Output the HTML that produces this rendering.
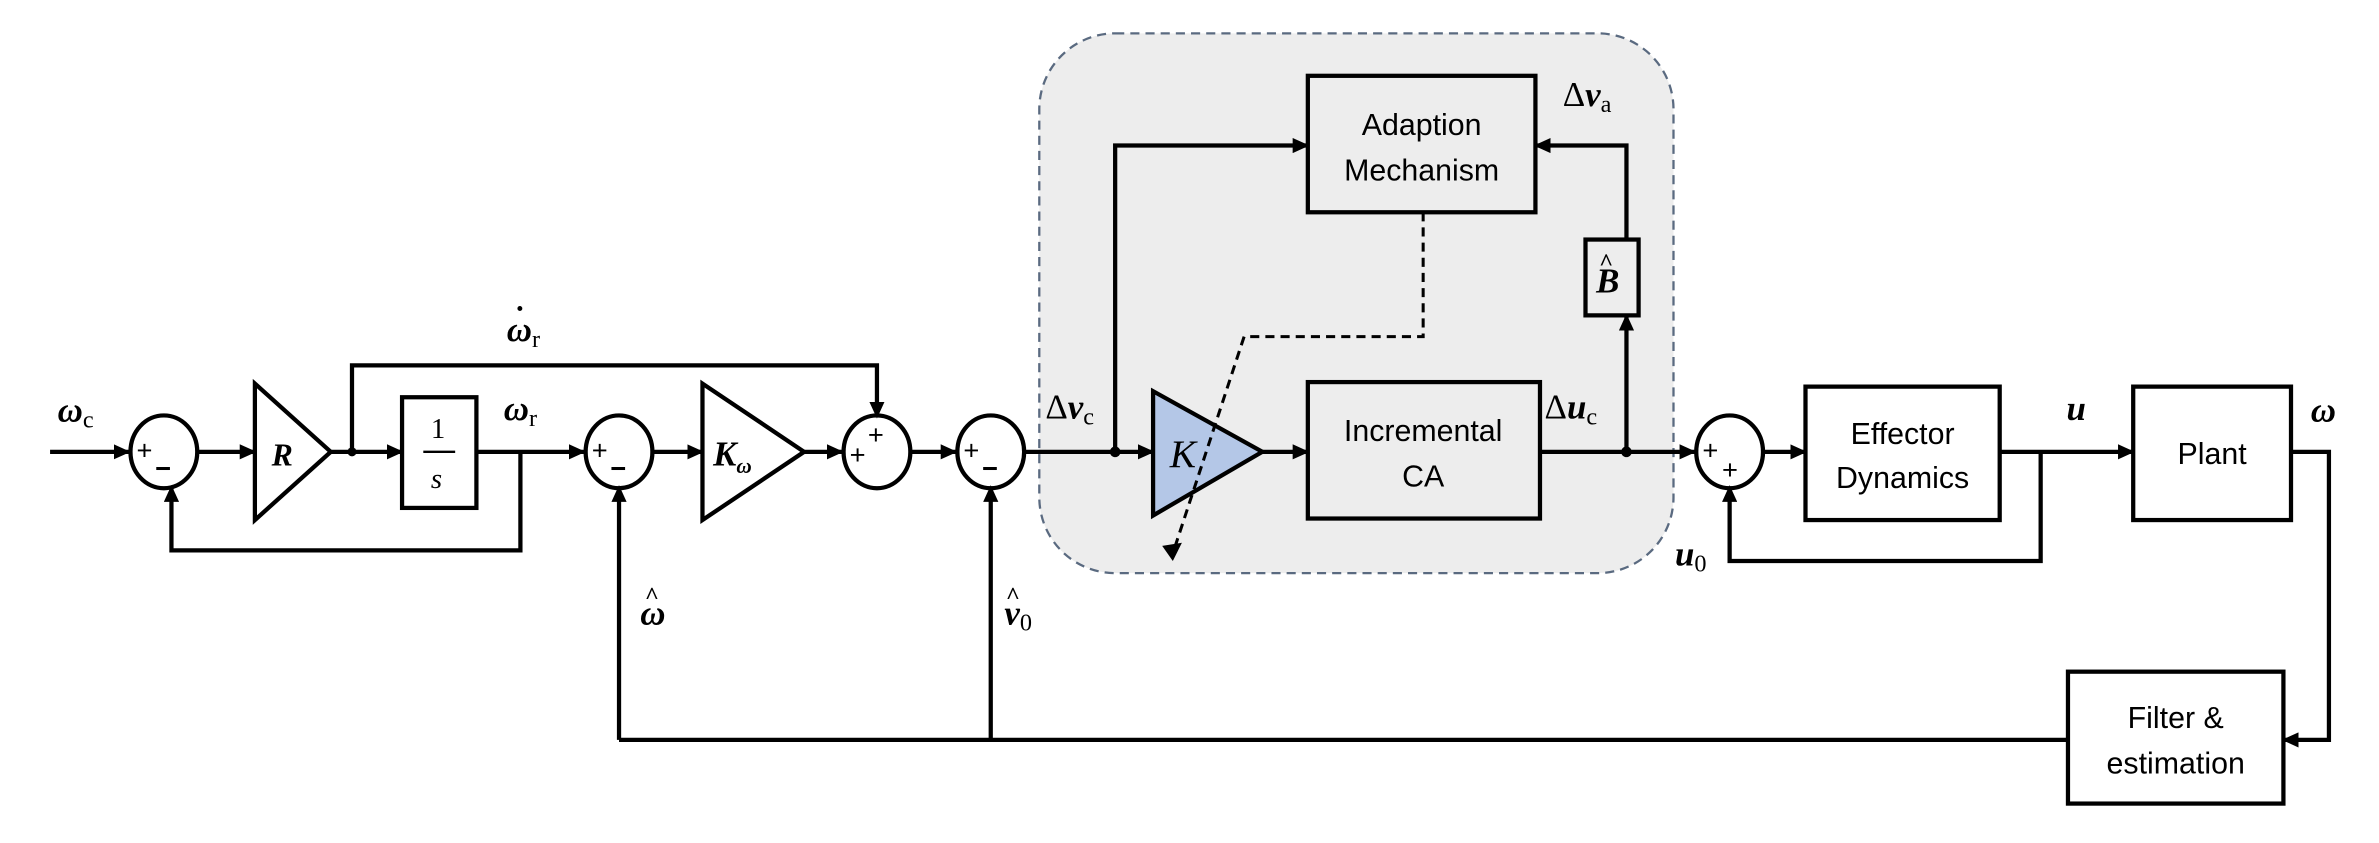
<!DOCTYPE html>
<html><head><meta charset="utf-8"><style>
html,body{margin:0;padding:0;background:#fff}
svg{display:block}
.m{font-family:"Liberation Serif",serif;font-style:italic;font-weight:bold;font-size:23px}
.t{font-family:"Liberation Sans",sans-serif;font-size:20px}
.s{font-family:"Liberation Sans",sans-serif;font-size:18px}
.sub{font-size:16px;font-weight:normal;font-style:normal}
</style></head><body>
<svg width="2379" height="843" viewBox="0 0 1568 556" preserveAspectRatio="none" xmlns="http://www.w3.org/2000/svg">
<defs>
<marker id="a" markerWidth="11" markerHeight="10" refX="10" refY="5" orient="auto" markerUnits="userSpaceOnUse"><path d="M0,0 L11,5 L0,10 z" fill="#000"/></marker>
</defs>
<rect x="685" y="22" width="418" height="356" rx="50" fill="#ededed" stroke="#5a6a80" stroke-width="1.5" stroke-dasharray="6,4"/>
<g fill="none" stroke="#000" stroke-width="2.8">
<line x1="33" y1="298" x2="85" y2="298" marker-end="url(#a)"/>
<line x1="131" y1="298" x2="168" y2="298" marker-end="url(#a)"/>
<line x1="218" y1="298" x2="265" y2="298" marker-end="url(#a)"/>
<polyline points="232,298 232,241 578,241 578,275" marker-end="url(#a)"/>
<line x1="314" y1="298" x2="385" y2="298" marker-end="url(#a)"/>
<polyline points="343,298 343,363 113,363 113,321" marker-end="url(#a)"/>
<line x1="431" y1="298" x2="463" y2="298" marker-end="url(#a)"/>
<line x1="530" y1="298" x2="555" y2="298" marker-end="url(#a)"/>
<line x1="601" y1="298" x2="630" y2="298" marker-end="url(#a)"/>
<line x1="676" y1="298" x2="760" y2="298" marker-end="url(#a)"/>
<polyline points="735,298 735,96 862,96" marker-end="url(#a)"/>
<line x1="832" y1="298" x2="862" y2="298" marker-end="url(#a)"/>
<line x1="1015" y1="298" x2="1117" y2="298" marker-end="url(#a)"/>
<line x1="1072" y1="298" x2="1072" y2="208" marker-end="url(#a)"/>
<polyline points="1072,158 1072,96 1012,96" marker-end="url(#a)"/>
<line x1="1163" y1="298" x2="1190" y2="298" marker-end="url(#a)"/>
<line x1="1318" y1="298" x2="1406" y2="298" marker-end="url(#a)"/>
<polyline points="1345,298 1345,370 1140,370 1140,321" marker-end="url(#a)"/>
<polyline points="1510,298 1535,298 1535,488 1505,488" marker-end="url(#a)"/>
<line x1="1363" y1="488" x2="408" y2="488"/>
<line x1="408" y1="488" x2="408" y2="321" marker-end="url(#a)"/>
<line x1="653" y1="488" x2="653" y2="321" marker-end="url(#a)"/>
<ellipse cx="108" cy="298" rx="22" ry="24"/><ellipse cx="408" cy="298" rx="22" ry="24"/>
<ellipse cx="578" cy="298" rx="22" ry="24"/><ellipse cx="653" cy="298" rx="22" ry="24"/>
<ellipse cx="1140" cy="298" rx="22" ry="24"/>
<polygon points="168,253 218,298 168,343"/>
<polygon points="463,253 530,298 463,343"/>
<rect x="265" y="262" width="49" height="73"/>
<rect x="862" y="50" width="150" height="90"/>
<rect x="862" y="252" width="153" height="90"/>
<rect x="1045" y="158" width="35" height="50"/>
<rect x="1190" y="255" width="128" height="88"/>
<rect x="1406" y="255" width="104" height="88"/>
<rect x="1363" y="443" width="142" height="87"/>
</g>
<polygon points="760,258 832,298 760,340" fill="#b4c7e7" stroke="#000" stroke-width="2.8"/>
<g fill="none" stroke="#000" stroke-width="2" stroke-dasharray="6,4">
<polyline points="938,140 938,222 820,222 773,365"/>
</g>
<path d="M766,360 L773,370 L779,358 z" fill="#000"/>
<g fill="#000">
<circle cx="232" cy="298" r="3"/><circle cx="735" cy="298" r="3.5"/><circle cx="1072" cy="298" r="3.5"/>
</g>
<g stroke="#000" stroke-width="2">
<line x1="103" y1="309" x2="112" y2="309"/>
<line x1="403" y1="309" x2="412" y2="309"/>
<line x1="648" y1="309" x2="657" y2="309"/>
</g>
<g class="s">
<text x="90" y="303">+</text>
<text x="390" y="303">+</text>
<text x="560" y="306">+</text><text x="572" y="293">+</text>
<text x="635" y="303">+</text>
<text x="1122" y="303">+</text><text x="1135" y="316">+</text>
</g>
<g class="m">
<text x="38" y="278">ω<tspan class="sub" dy="4">c</tspan></text>
<text x="179" y="307" font-size="21">R</text>
<text x="334" y="225">ω<tspan class="sub" dy="4">r</tspan></text>
<text x="340" y="210" font-size="20">·</text>
<text x="332" y="277">ω<tspan class="sub" dy="4">r</tspan></text>
<text x="470" y="307">K<tspan font-size="14" dy="5">ω</tspan></text>
<text x="689" y="276"><tspan font-style="normal" font-weight="normal">Δ</tspan>v<tspan class="sub" dy="4">c</tspan></text>
<text x="1030" y="70"><tspan font-style="normal" font-weight="normal">Δ</tspan>v<tspan class="sub" dy="4">a</tspan></text>
<text x="1052" y="193">B</text>
<text x="1054" y="178" font-size="16" font-style="normal">^</text>
<text x="1018" y="276"><tspan font-style="normal" font-weight="normal">Δ</tspan>u<tspan class="sub" dy="4">c</tspan></text>
<text x="1362" y="277">u</text>
<text x="1523" y="278">ω</text>
<text x="1104" y="373">u<tspan class="sub" dy="4">0</tspan></text>
<text x="422" y="412">ω</text>
<text x="425" y="398" font-size="16" font-style="normal">^</text>
<text x="662" y="412">v<tspan class="sub" dy="4">0</tspan></text>
<text x="663" y="398" font-size="16" font-style="normal">^</text>
</g>
<text x="771" y="308" font-family="Liberation Serif,serif" font-style="italic" font-size="26">K</text>
<text x="284" y="289" font-family="Liberation Serif,serif" font-size="19">1</text>
<line x1="279" y1="298" x2="300" y2="298" stroke="#000" stroke-width="1.5"/>
<text x="284" y="322" font-family="Liberation Serif,serif" font-style="italic" font-size="19">s</text>
<g class="t" text-anchor="middle">
<text x="937" y="89">Adaption</text><text x="937" y="119">Mechanism</text>
<text x="938" y="291">Incremental</text><text x="938" y="321">CA</text>
<text x="1254" y="293">Effector</text><text x="1254" y="322">Dynamics</text>
<text x="1458" y="306">Plant</text>
<text x="1434" y="480">Filter &amp;</text><text x="1434" y="510">estimation</text>
</g>
</svg>
</body></html>
